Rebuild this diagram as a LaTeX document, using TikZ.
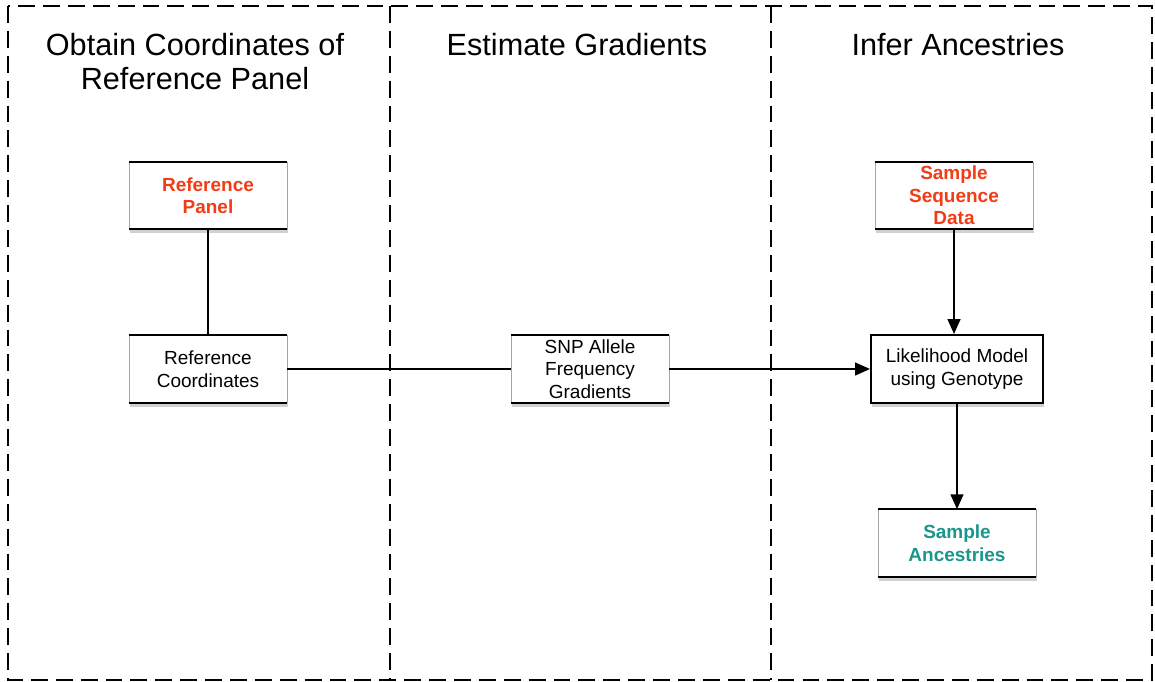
\documentclass[tikz,border=0pt]{standalone}
\usepackage{fontspec}
\setmainfont{Liberation Sans}
\usetikzlibrary{positioning,arrows.meta,shadows}
\definecolor{inred}{RGB}{242,60,22}
\definecolor{outteal}{RGB}{26,150,140}

\begin{document}
\begin{tikzpicture}[
  x=0.025cm, y=-0.025cm,
  >={Triangle[length=10.5pt,width=9pt]},
  lane/.style={line width=1.4pt, dash pattern=on 12pt off 5.7pt},
  title/.style={anchor=north, inner sep=0pt, align=center, font=\fontsize{21.8}{24}\selectfont},
  box/.style={draw=black!35, line width=0.4pt, fill=white, align=center, inner sep=1pt, minimum width=3.95cm, minimum height=1.675cm, font=\fontsize{13.5}{16}\selectfont, drop shadow={shadow xshift=0.6pt, shadow yshift=-3pt, opacity=0.3, fill=black!60}},
  inbox/.style={box, text=inred, font=\fontsize{13.5}{16}\selectfont\bfseries},
  outbox/.style={box, text=outteal, font=\fontsize{13.5}{16}\selectfont\bfseries},
  model/.style={box, draw=black, line width=1.4pt, minimum width=4.3cm, minimum height=1.7cm},
  link/.style={line width=1.4pt}
]
  \useasboundingbox (0,0) rectangle (1155,682);
  % lanes
  \draw[lane] (8,6) rectangle (1152,680);
  \draw[lane] (390,6) -- (390,680) (771,6) -- (771,680);
  \node[title] (t1) at (195,33) {Obtain Coordinates of\\Reference Panel};
  \node[title] (t2) at (577,33) {Estimate Gradients};
  \node[title] (t3) at (958,33) {Infer Ancestries};
  % boxes
  \node[inbox] (panel) at (208,195.5) {Reference\\Panel};
  \node[box] (coords) at (208,369) {Reference\\Coordinates};
  \node[box] (grad) at (590,369) {SNP Allele\\Frequency\\Gradients};
  \node[inbox] (seq) at (954,195.5) {Sample\\Sequence\\Data};
  \node[model] (lik) at (957,369) {Likelihood Model\\using Genotype};
  \node[outbox] (anc) at (957,543) {Sample\\Ancestries};
  \foreach \b in {panel,coords,grad,seq,anc}
    \draw[line width=1.6pt] (\b.north west) -- (\b.north east) (\b.south west) -- (\b.south east);
  % links
  \draw[link] (panel) -- (coords);
  \draw[link] (coords) -- (grad);
  \draw[link,->] (grad) -- (lik);
  \draw[link,->] (seq) -- (seq |- lik.north);
  \draw[link,->] (lik) -- (anc);
\end{tikzpicture}
\end{document}
